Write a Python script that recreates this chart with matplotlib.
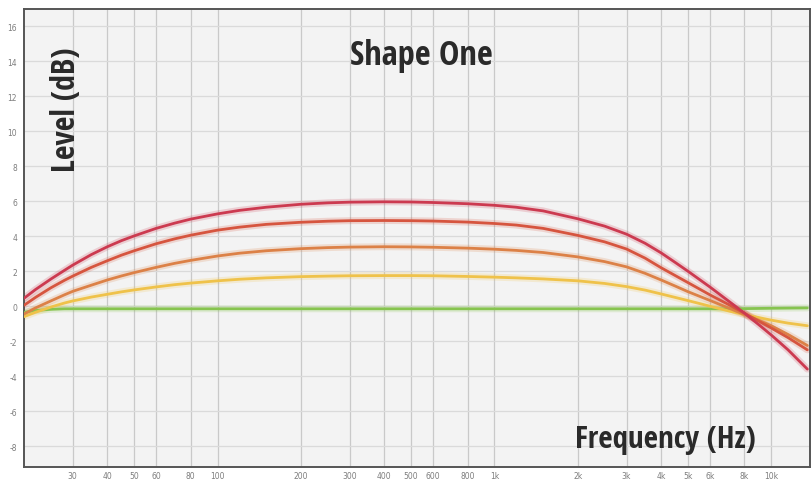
import matplotlib
matplotlib.use("Agg")
import matplotlib.pyplot as plt

# ---------------- data ----------------
freqs = [20, 22, 25, 28, 30, 35, 40, 45, 50, 60, 70, 80, 100, 120, 150, 200, 250, 300,
         400, 500, 600, 800, 1000, 1200, 1500, 2000, 2500, 3000, 3500, 4000, 4500, 5000,
         6000, 7000, 8000, 9000, 10000, 11500, 13500]

red = [0.45, 0.95, 1.55, 2.05, 2.35, 2.95, 3.4, 3.75, 4.02, 4.45, 4.75, 4.98, 5.28, 5.48,
       5.66, 5.83, 5.91, 5.95, 5.97, 5.96, 5.93, 5.86, 5.77, 5.66, 5.45, 5.0, 4.58, 4.12,
       3.6, 3.05, 2.5, 2.0, 1.1, 0.3, -0.4, -1.05, -1.65, -2.5, -3.6]
red_orange = [0.05, 0.5, 1.05, 1.48, 1.72, 2.22, 2.6, 2.92, 3.17, 3.57, 3.85, 4.06, 4.35,
              4.52, 4.68, 4.8, 4.86, 4.89, 4.9, 4.89, 4.87, 4.81, 4.73, 4.64, 4.45, 4.05,
              3.68, 3.27, 2.75, 2.2, 1.75, 1.35, 0.65, 0.1, -0.4, -0.85, -1.25, -1.8, -2.5]
orange = [-0.45, -0.1, 0.3, 0.65, 0.85, 1.2, 1.5, 1.73, 1.92, 2.22, 2.45, 2.62, 2.87, 3.03,
          3.17, 3.29, 3.35, 3.38, 3.4, 3.39, 3.37, 3.32, 3.26, 3.19, 3.07, 2.82, 2.55, 2.25,
          1.88, 1.5, 1.15, 0.83, 0.33, -0.1, -0.48, -0.8, -1.12, -1.62, -2.25]
yellow = [-0.6, -0.35, -0.05, 0.18, 0.3, 0.52, 0.68, 0.82, 0.93, 1.1, 1.23, 1.32, 1.45,
          1.54, 1.62, 1.69, 1.72, 1.74, 1.75, 1.75, 1.74, 1.7, 1.66, 1.62, 1.56, 1.45, 1.3,
          1.12, 0.92, 0.7, 0.5, 0.32, 0.0, -0.27, -0.48, -0.65, -0.8, -0.97, -1.12]
green = [-0.35, -0.25, -0.18, -0.15, -0.15, -0.15, -0.15, -0.15, -0.15, -0.15, -0.15,
         -0.15, -0.15, -0.15, -0.15, -0.15, -0.15, -0.15, -0.15, -0.15, -0.15, -0.15,
         -0.15, -0.15, -0.15, -0.15, -0.15, -0.15, -0.15, -0.15, -0.15, -0.15, -0.15,
         -0.15, -0.14, -0.13, -0.12, -0.11, -0.1]

xtick_vals = [30, 40, 50, 60, 80, 100, 200, 300, 400, 500, 600, 800,
              1000, 2000, 3000, 4000, 5000, 6000, 8000, 10000]
xtick_labels = ["30", "40", "50", "60", "80", "100", "200", "300", "400", "500", "600", "800",
                "1k", "2k", "3k", "4k", "5k", "6k", "8k", "10k"]
ytick_vals = [-8, -6, -4, -2, 0, 2, 4, 6, 8, 10, 12, 14, 16]

title_text = "Shape One"
xlabel_text = "Frequency (Hz)"
ylabel_text = "Level (dB)"

# ---------------- figure ----------------
W, H = 812, 481
fig = plt.figure(figsize=(W / 100, H / 100), dpi=100)
fig.patch.set_facecolor("white")

left_px, right_px, top_px, bottom_px = 24, 810, 10, 468
ax = fig.add_axes([left_px / W, 1 - bottom_px / H,
                   (right_px - left_px) / W, (bottom_px - top_px) / H])
ax.set_facecolor("#f3f3f3")
ax.set_xscale("log")
ax.set_xlim(20, 13800)
ax.set_ylim(-9.2, 17.0)

# grid
for v in xtick_vals:
    ax.axvline(v, color="#c9c9c9", lw=0.9, zorder=1)
for v in ytick_vals:
    ax.axhline(v, color="#dadada", lw=0.9, zorder=1)

ax.set_xticks(xtick_vals)
ax.set_xticklabels(xtick_labels)
ax.set_yticks(ytick_vals)
ax.set_yticklabels([str(v) for v in ytick_vals])
ax.xaxis.set_minor_locator(matplotlib.ticker.NullLocator())
ax.tick_params(axis="both", length=0, labelsize=5.5, labelcolor="#7d7d7d")
ax.tick_params(axis="x", pad=3)
ax.tick_params(axis="y", pad=5)

for s in ax.spines.values():
    s.set_color("#555555")
    s.set_linewidth(1.4)

series = [
    (green, "#86c44f"),
    (yellow, "#efc24a"),
    (orange, "#dc8147"),
    (red_orange, "#d6553f"),
    (red, "#cc3a50"),
]
for vals, col in series:
    ax.plot(freqs, vals, color=col, lw=5, alpha=0.2, solid_capstyle="round", zorder=2)
for vals, col in series:
    ax.plot(freqs, vals, color=col, lw=2.0, solid_capstyle="round",
            solid_joinstyle="round", zorder=3)

fam = ["Liberation Sans Narrow", "DejaVu Sans Condensed", "Open Sans Condensed",
       "Roboto Condensed", "Liberation Sans", "DejaVu Sans"]

t_title = fig.text(421 / W, 1 - 65 / H, title_text, ha="center", va="baseline",
                   fontsize=20, fontweight="bold", family=fam, color="#2a2a2a")
t_xl = fig.text(575 / W, 1 - 448 / H, xlabel_text, ha="left", va="baseline",
                fontsize=20, fontweight="bold", family=fam, color="#2a2a2a")
t_yl = fig.text(75 / W, 1 - 172 / H, ylabel_text, ha="left", va="baseline",
                rotation=90, rotation_mode="anchor",
                fontsize=20, fontweight="bold", family=fam, color="#2a2a2a")

fig.canvas.draw()
r = fig.canvas.get_renderer()
for t, target, use_h in [(t_title, 143, False), (t_xl, 180, False), (t_yl, 124, True)]:
    bb = t.get_window_extent(r)
    meas = bb.height if use_h else bb.width
    t.set_fontsize(t.get_fontsize() * target / meas)

fig.savefig("out.png", dpi=100)
